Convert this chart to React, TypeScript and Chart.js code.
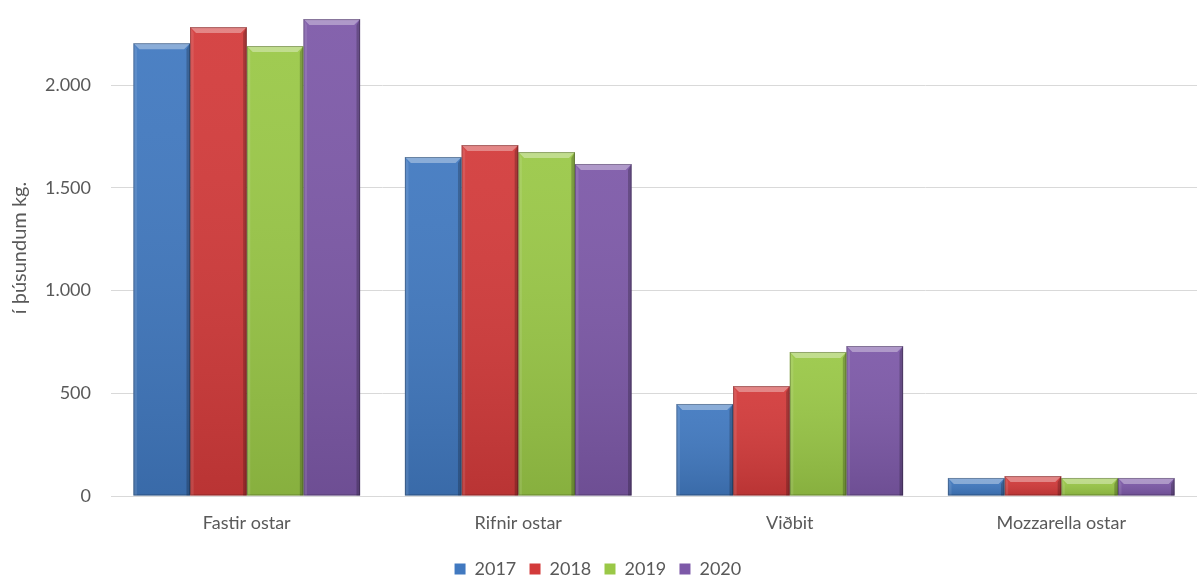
import React, { useEffect, useRef } from "react";
import { Chart, registerables } from "chart.js";

Chart.register(...registerables);

const categories = ["Fastir ostar", "Rifnir ostar", "Viðbit", "Mozzarella ostar"];
const seriesLabels = ["2017", "2018", "2019", "2020"];
const values2017 = [2204, 1650, 448, 88];
const values2018 = [2282, 1708, 535, 97];
const values2019 = [2190, 1674, 701, 88];
const values2020 = [2321, 1616, 730, 88];
const yTicks = [0, 500, 1000, 1500, 2000];
const yTitle = "í þúsundum kg.";

const colors = ["#4179C0", "#D33B3B", "#9AC847", "#7D59A8"];
const FONT = "Lato, 'Open Sans', sans-serif";
const TEXT = "#595959";

const bevelPlugin = {
  id: "bevel",
  afterDatasetsDraw(chart: any) {
    const ctx = chart.ctx;
    chart.data.datasets.forEach((ds: any, di: number) => {
      const meta = chart.getDatasetMeta(di);
      meta.data.forEach((bar: any) => {
        const { x, y, base, width } = bar.getProps(["x", "y", "base", "width"], true);
        const l = x - width / 2;
        const r = x + width / 2;
        const t = Math.min(y, base);
        const btm = Math.max(y, base);
        const h = btm - t;
        const b = Math.min(6, h / 2.5);
        ctx.save();
        const g = ctx.createLinearGradient(0, t, 0, btm);
        g.addColorStop(0, "rgba(255,255,255,0.06)");
        g.addColorStop(1, "rgba(0,0,0,0.12)");
        ctx.fillStyle = g;
        ctx.fillRect(l, t, width, h);
        ctx.fillStyle = "rgba(255,255,255,0.35)";
        ctx.beginPath();
        ctx.moveTo(l, t);
        ctx.lineTo(r, t);
        ctx.lineTo(r - b, t + b);
        ctx.lineTo(l + b, t + b);
        ctx.closePath();
        ctx.fill();
        ctx.fillStyle = "rgba(255,255,255,0.10)";
        ctx.beginPath();
        ctx.moveTo(l, t);
        ctx.lineTo(l + b * 0.6, t + b);
        ctx.lineTo(l + b * 0.6, btm);
        ctx.lineTo(l, btm);
        ctx.closePath();
        ctx.fill();
        ctx.fillStyle = "rgba(0,0,0,0.22)";
        ctx.beginPath();
        ctx.moveTo(r, t);
        ctx.lineTo(r - b * 0.6, t + b);
        ctx.lineTo(r - b * 0.6, btm);
        ctx.lineTo(r, btm);
        ctx.closePath();
        ctx.fill();
        ctx.strokeStyle = "rgba(0,0,0,0.25)";
        ctx.lineWidth = 1;
        ctx.strokeRect(l + 0.5, t + 0.5, width - 1, h - 1);
        ctx.restore();
      });
    });
  },
};

export default function App() {
  const ref = useRef<HTMLCanvasElement>(null);
  useEffect(() => {
    document.body.style.margin = "0";
    const series = [values2017, values2018, values2019, values2020];
    const chart = new Chart(ref.current!, {
      type: "bar",
      data: {
        labels: categories,
        datasets: series.map((v, i) => ({
          label: seriesLabels[i],
          data: v,
          backgroundColor: colors[i],
          borderWidth: 0,
          categoryPercentage: 0.835,
          barPercentage: 1,
        })),
      },
      options: {
        animation: false,
        responsive: false,
        maintainAspectRatio: false,
        layout: { padding: { top: 0, right: 0, left: 8, bottom: -11 } },
        plugins: {
          tooltip: { enabled: false },
          legend: {
            position: "bottom",
            labels: {
              boxWidth: 11,
              boxHeight: 11,
              color: TEXT,
              font: { family: FONT, size: 18 },
              padding: 4,
              generateLabels: (chart: any) =>
                Chart.defaults.plugins.legend.labels
                  .generateLabels(chart)
                  .map((item: any) => ({ ...item, text: item.text + "  " })),
            },
          },
        },
        scales: {
          x: {
            grid: { display: false, drawTicks: false },
            border: { color: "#D9D9D9", width: 1 },
            ticks: { color: TEXT, font: { family: FONT, size: 18 }, padding: 16 },
            afterFit: (axis: any) => {
              axis.height = 60;
            },
          },
          y: {
            min: 0,
            max: 2414,
            afterBuildTicks: (axis: any) => {
              axis.ticks = yTicks.map((v) => ({ value: v }));
            },
            afterFit: (axis: any) => {
              axis.width = 103;
              axis.paddingTop = 0;
            },
            grid: { color: "#D9D9D9", drawTicks: false, lineWidth: 1 },
            border: { display: false },
            ticks: {
              color: TEXT,
              font: { family: FONT, size: 18 },
              padding: 20,
              callback: (v: any) => Number(v).toLocaleString("de-DE"),
            },
            title: {
              display: true,
              text: yTitle,
              color: TEXT,
              font: { family: FONT, size: 20 },
              padding: { top: 0, bottom: 0 },
            },
          },
        },
      },
      plugins: [bevelPlugin],
    });
    return () => chart.destroy();
  }, []);
  return (
    <div style={{ width: 1197, height: 577 }}>
      <canvas ref={ref} width={1197} height={577} style={{ width: 1197, height: 577 }} />
    </div>
  );
}
